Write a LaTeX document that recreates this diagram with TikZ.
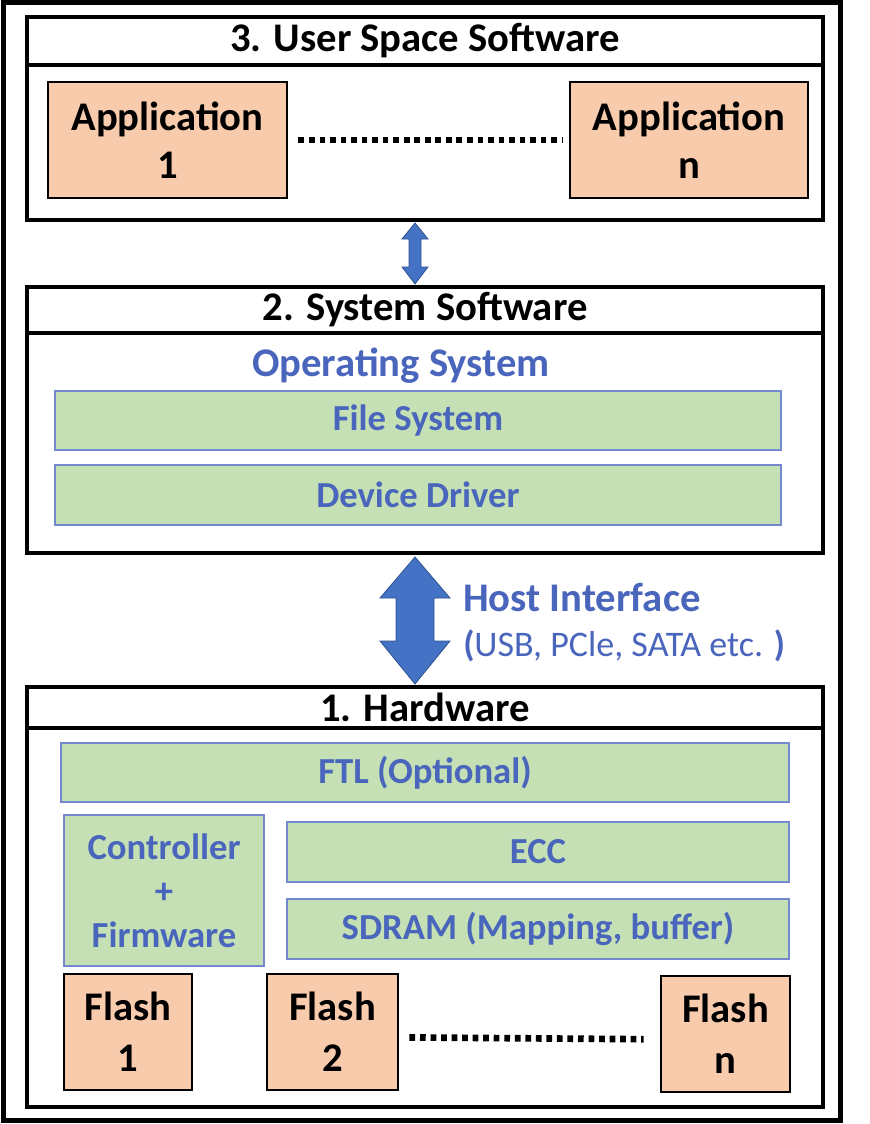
\documentclass[tikz,border=0pt]{standalone}
\usepackage{fontspec}
\setmainfont{Carlito}
\usetikzlibrary{fit,calc}
\definecolor{salmon}{HTML}{F8CBAD}
\definecolor{lgreen}{HTML}{C5E0B4}
\definecolor{gborder}{HTML}{7488D0}
\definecolor{tblue}{HTML}{4A66BC}
\definecolor{afill}{HTML}{4472C4}
\definecolor{adark}{HTML}{2F528F}
\begin{document}
\begin{tikzpicture}[x=0.75pt,y=-0.75pt,
  frame/.style={draw=black, line width=3.75pt, inner sep=0pt},
  hdr/.style={draw=black, line width=3pt, inner sep=0pt},
  hdrtxt/.style={inner sep=0pt, font=\fontsize{30.5pt}{36pt}\selectfont\bfseries},
  bodybox/.style={draw=black, line width=3pt, inner sep=0pt},
  pbox/.style={draw=black, line width=2.2pt, fill=salmon, inner sep=0pt},
  ptxt/.style={inner sep=0pt, align=center, font=\fontsize{30.5pt}{36pt}\selectfont\bfseries},
  ftxt/.style={inner sep=0pt, align=center, font=\fontsize{30.5pt}{38pt}\selectfont\bfseries},
  gbox/.style={draw=gborder, line width=1.2pt, fill=lgreen, inner sep=0pt},
  gtxt/.style={inner sep=0pt, align=center, text=tblue, font=\fontsize{27.5pt}{33pt}\selectfont\bfseries},
  ctxt/.style={inner sep=0pt, align=center, text=tblue, font=\fontsize{27.5pt}{33pt}\selectfont\bfseries},
  dots/.style={line width=5pt, dash pattern=on 4.3pt off 3.6pt},
  bigarrow/.style={fill=afill, draw=adark, line width=0.6pt}
]
\path[fill=white] (0,0) rectangle (870,1124);
\useasboundingbox (0,0) rectangle (870,1124);

\node[frame, fit={(3,3)(840,1120)}] (outer) {};

% Box 3
\node[bodybox, fit={(27,65)(823,220)}] (b3) {};
\node[hdr, fit={(27,17)(823,65)}, label={[hdrtxt]center:3. User Space Software}] (h3) {};
\node[pbox, fit={(48,82)(287,198)}, label={[ptxt]center:Application\\1}] (app1) {};
\node[pbox, fit={(570,82)(808,198)}, label={[ptxt]center:Application\\n}] (appn) {};
\draw[dots, shorten <=7.5pt, shorten >=5pt] (app1) -- (appn);

% Box 2
\node[bodybox, fit={(27,333)(823,553)}] (b2) {};
\node[hdr, fit={(27,287)(823,333)}, label={[hdrtxt]center:2. System Software}] (h2) {};
\node[text=tblue, font=\fontsize{30.5pt}{36pt}\selectfont\bfseries, inner sep=0pt] (os) at (401,366) {Operating System};
\node[gbox, fit={(55,391)(781,450)}, label={[gtxt]center:File System}] (fs) {};
\node[gbox, fit={(55,465)(781,525)}, label={[gtxt]center:Device Driver}] (dd) {};

% Box 1
\node[bodybox, fit={(27,728)(823,1107)}] (b1) {};
\node[hdr, fit={(27,687)(823,728)}, label={[hdrtxt]center:1. Hardware}] (h1) {};
\node[gbox, fit={(61,743)(789,802)}, label={[gtxt]center:FTL (Optional)}] (ftl) {};
\node[gbox, fit={(64,815)(264,966)}, label={[ctxt]center:Controller\\+\\Firmware}] (ctrl) {};
\node[gbox, fit={(287,822)(789,882)}, label={[gtxt]center:ECC}] (ecc) {};
\node[gbox, fit={(287,899)(789,959)}, label={[gtxt]center:SDRAM (Mapping, buffer)}] (sdram) {};
\node[pbox, fit={(64,974)(192,1090)}, label={[ftxt]center:Flash\\1}] (f1) {};
\node[pbox, fit={(267,974)(398,1090)}, label={[ftxt]center:Flash\\2}] (f2) {};
\node[pbox, fit={(661,976)(790,1092)}, label={[ftxt]center:Flash\\n}] (fn) {};
\draw[dots, shorten <=7.5pt, shorten >=12pt] ([yshift=-4pt]f2.east) -- ([yshift=-4pt]fn.west);

% Small arrow between box 3 and box 2
\coordinate (sa) at ($(b3.south)+(-10,1)$);
\coordinate (sb) at ($(h2.north)+(-10,-1)$);
\path[bigarrow] (sa) -- ($(sa)+(13,16)$) -- ($(sa)+(6,16)$) -- ($(sb)+(6,-17)$) -- ($(sb)+(13,-17)$) -- (sb)
  -- ($(sb)+(-13,-17)$) -- ($(sb)+(-6,-17)$) -- ($(sa)+(-6,16)$) -- ($(sa)+(-13,16)$) -- cycle;

% Big arrow between box 2 and box 1
\coordinate (ta) at ($(b2.south)+(-10,2)$);
\coordinate (tb) at ($(h1.north)+(-10,-1)$);
\path[bigarrow] (ta) -- ($(ta)+(35,41)$) -- ($(ta)+(19,41)$) -- ($(tb)+(19,-43)$) -- ($(tb)+(35,-43)$) -- (tb)
  -- ($(tb)+(-35,-43)$) -- ($(tb)+(-19,-43)$) -- ($(ta)+(-19,41)$) -- ($(ta)+(-35,41)$) -- cycle;

\node[anchor=west, text=tblue, font=\fontsize{30.5pt}{36pt}\selectfont\bfseries, inner sep=0pt] (hi) at (463,598) {Host Interface};
\node[anchor=west, text=tblue, font=\fontsize{27pt}{33pt}\selectfont, inner sep=0pt] (hil) at (463,646) {{\bfseries(}USB, PCle, SATA etc. {\bfseries)}};
\end{tikzpicture}
\end{document}
